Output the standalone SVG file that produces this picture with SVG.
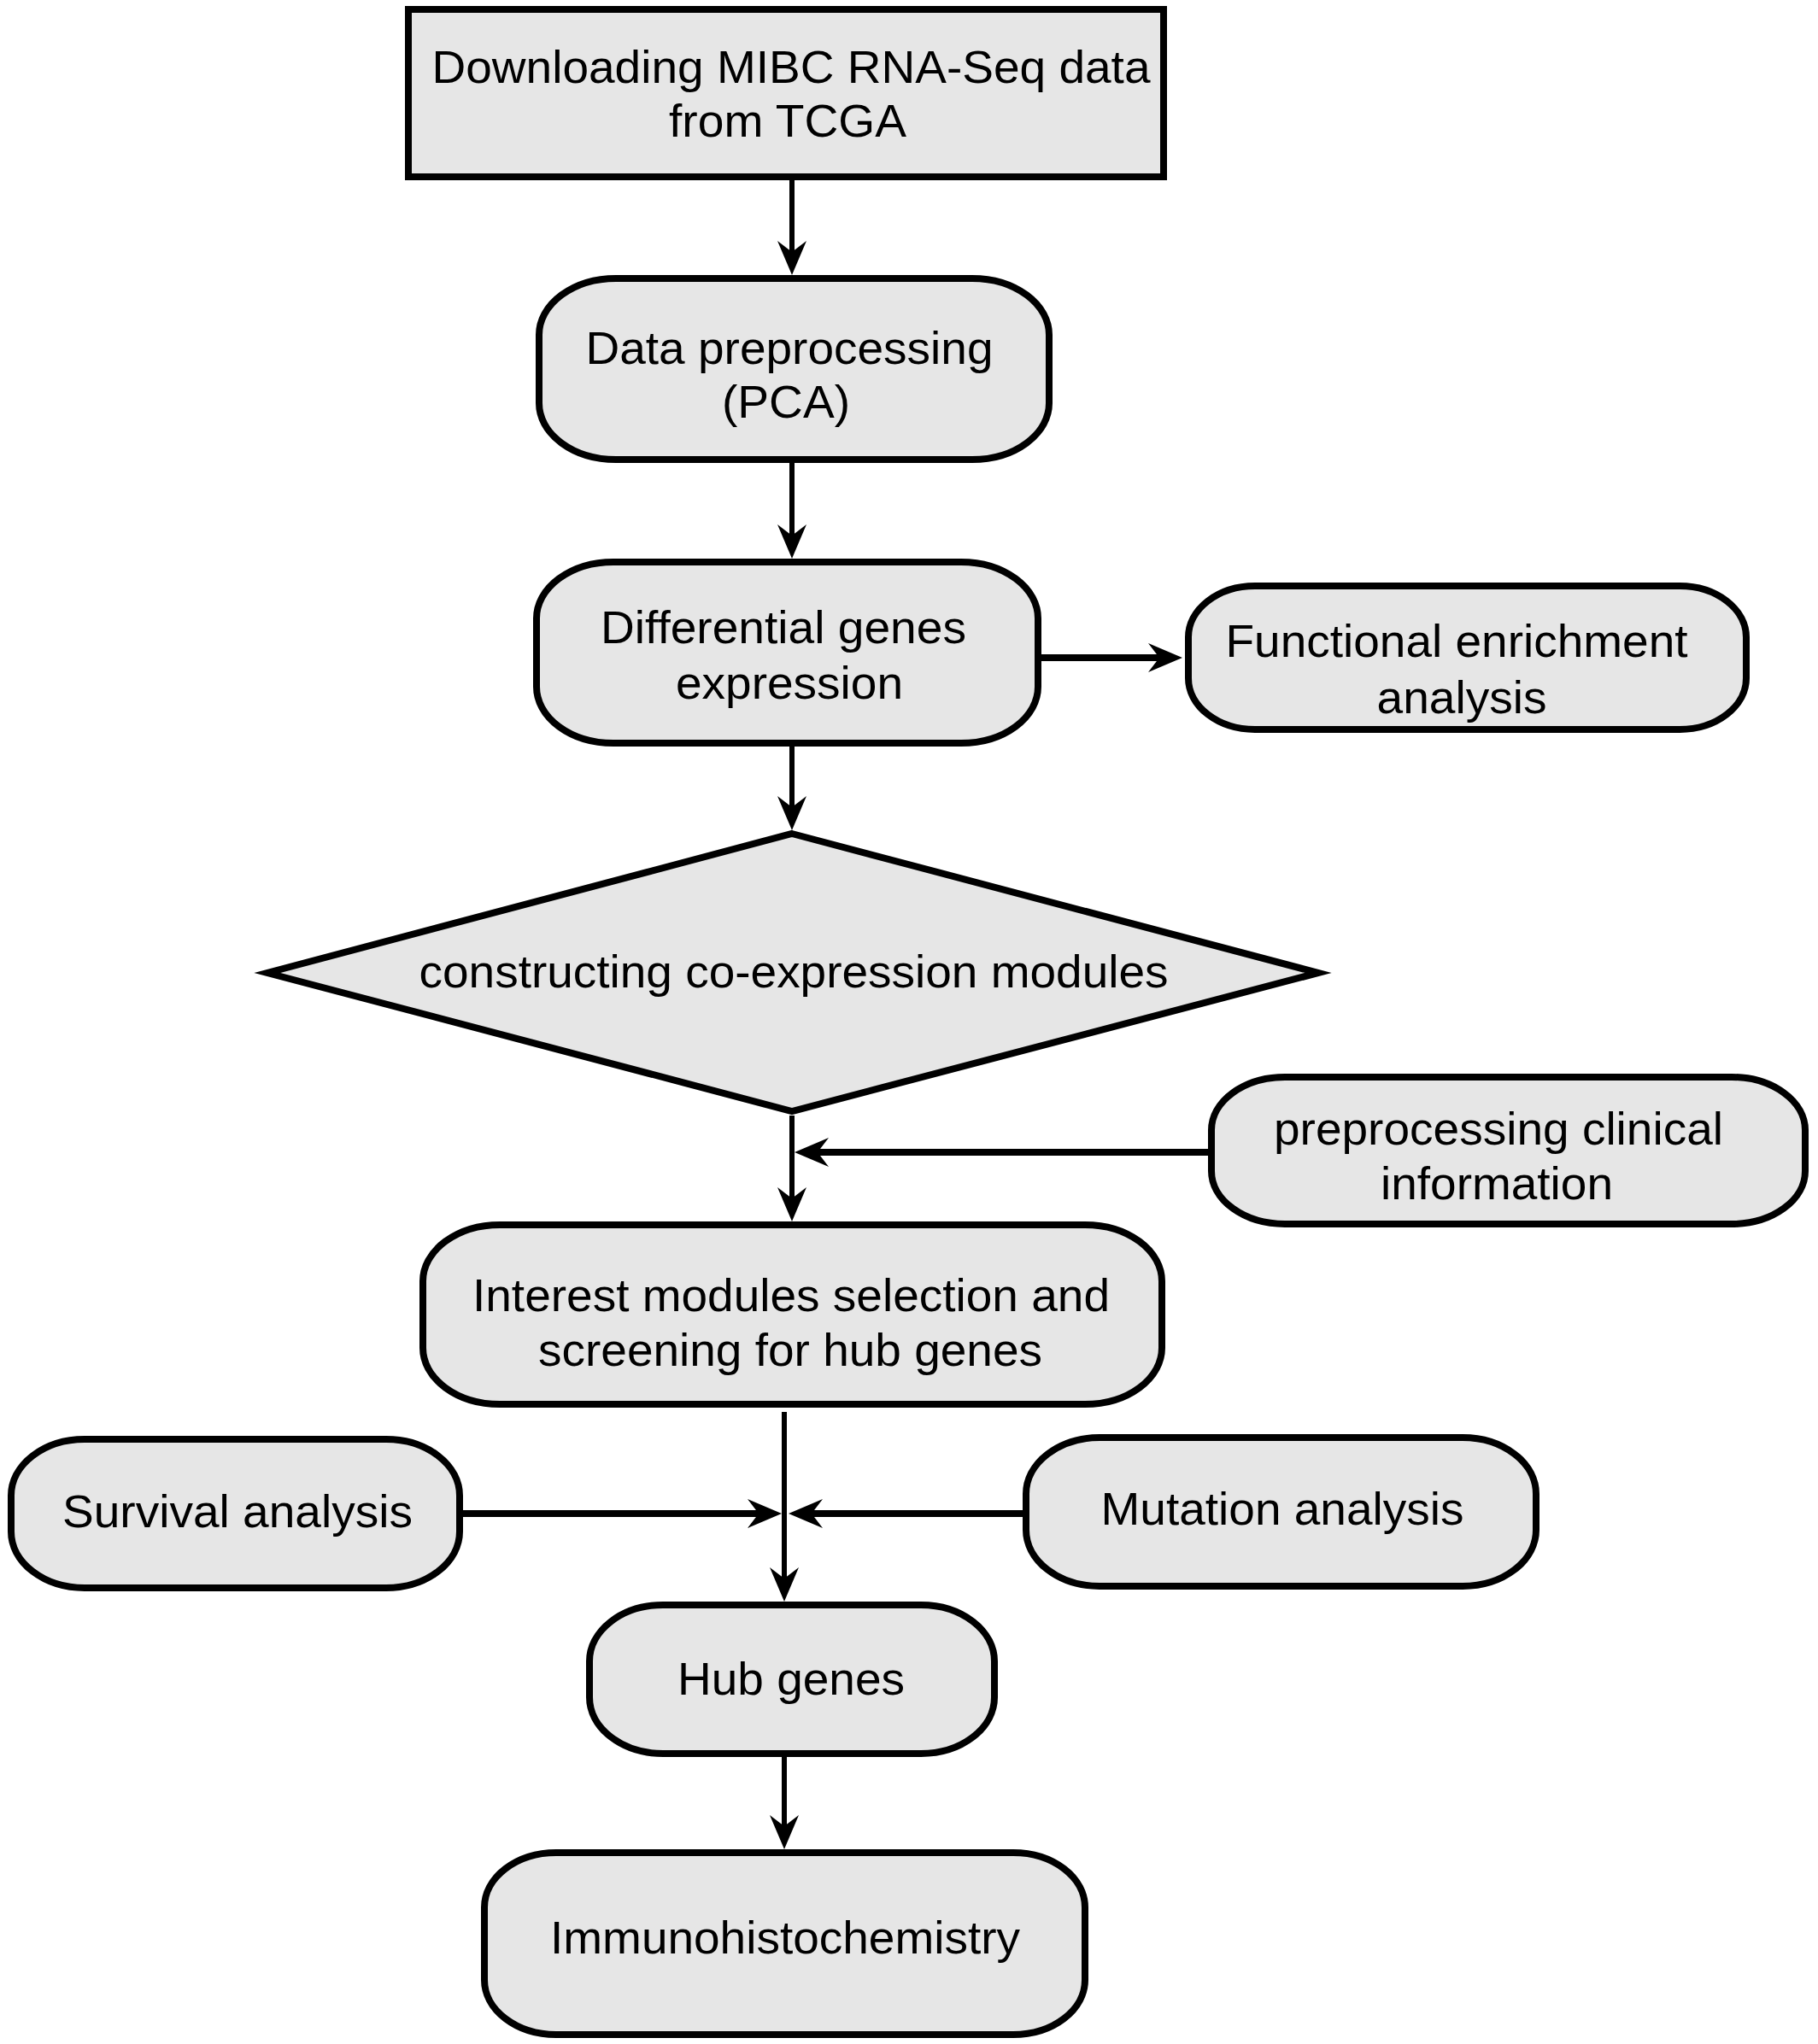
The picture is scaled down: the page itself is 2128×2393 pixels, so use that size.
<svg xmlns="http://www.w3.org/2000/svg" width="2128" height="2393" viewBox="0 0 2128 2393">
<defs>
<style>
.box{fill:#e6e6e6;stroke:#000;stroke-width:8}
.t{font-family:"Liberation Sans",Arial,sans-serif;font-size:54px;fill:#000;text-anchor:middle}
.thin{stroke:#000;stroke-width:6;fill:none}
.thick{stroke:#000;stroke-width:8;fill:none}
</style>
<marker id="ah" markerUnits="userSpaceOnUse" markerWidth="40" markerHeight="34" refX="20" refY="17" orient="auto" viewBox="0 0 40 34">
<path d="M0,0 L40,17 L0,34 L13,17 Z" fill="#000"/>
</marker>
</defs>
<rect width="2128" height="2393" fill="#fff"/>
<g id="connectors">
<line class="thin" x1="927" y1="211" x2="927" y2="302" marker-end="url(#ah)"/>
<line class="thin" x1="927" y1="541" x2="927" y2="634" marker-end="url(#ah)"/>
<line class="thick" x1="1217" y1="770" x2="1364" y2="770" marker-end="url(#ah)"/>
<line class="thin" x1="927" y1="872" x2="927" y2="952" marker-end="url(#ah)"/>
<line class="thin" x1="927" y1="1306" x2="927" y2="1410" marker-end="url(#ah)"/>
<line class="thick" x1="1416" y1="1349" x2="950" y2="1349" marker-end="url(#ah)"/>
<line class="thin" x1="918" y1="1653" x2="918" y2="1855" marker-end="url(#ah)"/>
<line class="thick" x1="540" y1="1772" x2="895" y2="1772" marker-end="url(#ah)"/>
<line class="thick" x1="1199" y1="1772" x2="943" y2="1772" marker-end="url(#ah)"/>
<line class="thin" x1="918" y1="2055" x2="918" y2="2145" marker-end="url(#ah)"/>
</g>
<g id="n1">
<rect class="box" x="478" y="11" width="884" height="196"/>
<text class="t" x="926" y="97" textLength="841" lengthAdjust="spacingAndGlyphs">Downloading MIBC RNA-Seq data</text>
<text class="t" x="922" y="160" textLength="278" lengthAdjust="spacingAndGlyphs">from TCGA</text>
</g>
<g id="n2">
<rect class="box" x="631" y="326" width="597" height="212" rx="90" ry="66"/>
<text class="t" x="924" y="426" textLength="477" lengthAdjust="spacingAndGlyphs">Data preprocessing</text>
<text class="t" x="920" y="489" textLength="150" lengthAdjust="spacingAndGlyphs">(PCA)</text>
</g>
<g id="n3">
<rect class="box" x="628" y="658" width="587" height="212" rx="90" ry="66"/>
<text class="t" x="917" y="753" textLength="428" lengthAdjust="spacingAndGlyphs">Differential genes</text>
<text class="t" x="924" y="818" textLength="266" lengthAdjust="spacingAndGlyphs">expression</text>
</g>
<g id="n4">
<rect class="box" x="1391" y="686" width="653" height="168" rx="78" ry="60"/>
<text class="t" x="1705" y="769" textLength="541" lengthAdjust="spacingAndGlyphs">Functional enrichment</text>
<text class="t" x="1711" y="835" textLength="199" lengthAdjust="spacingAndGlyphs">analysis</text>
</g>
<g id="n5">
<polygon class="box" points="927,976 1543,1139 927,1301 313,1139"/>
<text class="t" x="929" y="1156" textLength="877" lengthAdjust="spacingAndGlyphs">constructing co-expression modules</text>
</g>
<g id="n6">
<rect class="box" x="1418" y="1261" width="695" height="172" rx="86" ry="62"/>
<text class="t" x="1754" y="1340" textLength="526" lengthAdjust="spacingAndGlyphs">preprocessing clinical</text>
<text class="t" x="1752" y="1404" textLength="272" lengthAdjust="spacingAndGlyphs">information</text>
</g>
<g id="n7">
<rect class="box" x="495" y="1434" width="865" height="210" rx="90" ry="66"/>
<text class="t" x="926" y="1535" textLength="746" lengthAdjust="spacingAndGlyphs">Interest modules selection and</text>
<text class="t" x="925" y="1599" textLength="590" lengthAdjust="spacingAndGlyphs">screening for hub genes</text>
</g>
<g id="n8">
<rect class="box" x="13" y="1685" width="525" height="174" rx="86" ry="66"/>
<text class="t" x="278" y="1788" textLength="410" lengthAdjust="spacingAndGlyphs">Survival analysis</text>
</g>
<g id="n9">
<rect class="box" x="1201" y="1683" width="597" height="174" rx="86" ry="66"/>
<text class="t" x="1501" y="1785" textLength="425" lengthAdjust="spacingAndGlyphs">Mutation analysis</text>
</g>
<g id="n10">
<rect class="box" x="690" y="1879" width="474" height="174" rx="86" ry="66"/>
<text class="t" x="926" y="1984" textLength="266" lengthAdjust="spacingAndGlyphs">Hub genes</text>
</g>
<g id="n11">
<rect class="box" x="567" y="2169" width="703" height="213" rx="84" ry="64"/>
<text class="t" x="919" y="2287" textLength="550" lengthAdjust="spacingAndGlyphs">Immunohistochemistry</text>
</g>
</svg>
